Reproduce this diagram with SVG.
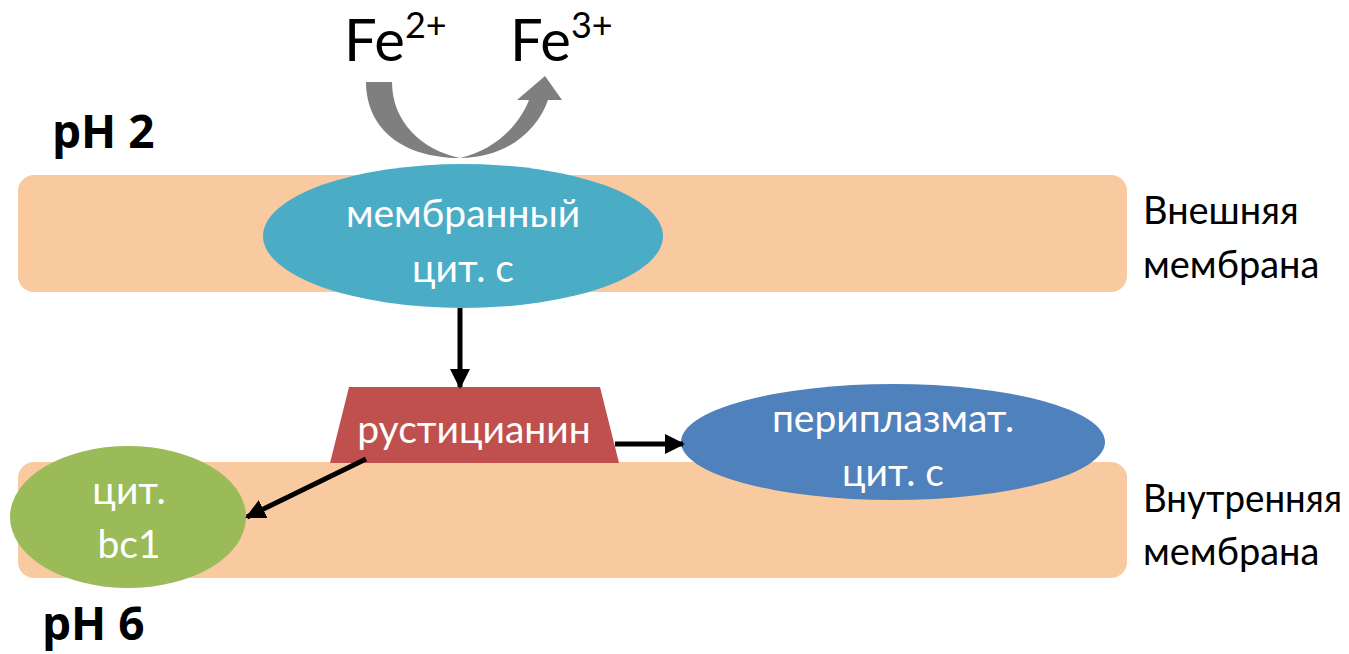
<svg xmlns="http://www.w3.org/2000/svg" width="1349" height="654" viewBox="0 0 1349 654">
<defs>
<marker id="ah" viewBox="0 0 10 10" refX="9" refY="5" markerWidth="4" markerHeight="4" orient="auto" markerUnits="strokeWidth">
<path d="M0,0 L10,5 L0,10 Z" fill="#000"/>
</marker>
<style>
.mem{fill:#F9C9A0}
.t{font-family:Lato,"Noto Sans",sans-serif;font-size:39px;fill:#fff;text-anchor:middle}
.lab{font-family:Lato,"Noto Sans",sans-serif;font-size:38px;fill:#000}
.ph{font-family:"Open Sans","Noto Sans",sans-serif;font-weight:bold;font-size:46px;fill:#000}
.fe{font-family:Lato,"Noto Sans",sans-serif;font-size:58px;fill:#000}
.con{stroke:#000;stroke-width:5;fill:none}
</style>
</defs>
<rect width="1349" height="654" fill="#fff"/>
<g id="outer-membrane"><rect class="mem" x="18" y="175" width="1109" height="117" rx="16"/></g>
<g id="inner-membrane"><rect class="mem" x="18" y="462" width="1109" height="116" rx="16"/></g>
<g id="fe-cycle">
<path d="M366,82 C366,128 402,158 460,158 C505,158 537,132 548,100 L562,100 L545,76 L517,100 L529,100 C518,128 493,150 460,158 C422,150 392,122 392,82 Z" fill="#7F7F7F"/>
<text class="fe" x="344" y="61">Fe<tspan font-size="36" dy="-23">2+</tspan></text>
<text class="fe" x="510" y="61">Fe<tspan font-size="36" dy="-23">3+</tspan></text>
</g>
<g id="ph2"><text class="ph" x="52" y="148">pH 2</text></g>
<g id="ph6"><text class="ph" x="42" y="640">pH 6</text></g>
<g id="label-outer"><text class="lab" x="1143" y="224">Внешняя</text><text class="lab" x="1143" y="278">мембрана</text></g>
<g id="label-inner"><text class="lab" x="1143" y="512" textLength="199" lengthAdjust="spacingAndGlyphs">Внутренняя</text><text class="lab" x="1143" y="565">мембрана</text></g>
<g id="membrane-cyt-c">
<ellipse cx="463" cy="236" rx="200" ry="72" fill="#4BACC6"/>
<text class="t" x="463" y="227">мембранный</text>
<text class="t" x="463" y="282">цит. с</text>
</g>
<g id="rusticyanin">
<polygon points="349,387 600,387 619,463 330,463" fill="#C0504D"/>
<text class="t" x="474" y="443" font-size="38">рустицианин</text>
</g>
<g id="periplasmic-cyt-c">
<ellipse cx="893" cy="442" rx="212" ry="58" fill="#4F81BD"/>
<text class="t" x="893" y="432">периплазмат.</text>
<text class="t" x="893" y="486">цит. с</text>
</g>
<g id="cyt-bc1">
<ellipse cx="128" cy="517" rx="118" ry="71" fill="#9BBB59"/>
<text class="t" x="129" y="504">цит.</text>
<text class="t" x="129" y="558">bc1</text>
</g>
<g id="connectors">
<line class="con" x1="460" y1="308" x2="460" y2="387" marker-end="url(#ah)"/>
<line class="con" x1="615" y1="444" x2="683" y2="444" marker-end="url(#ah)"/>
<line class="con" x1="366" y1="459" x2="247" y2="517" marker-end="url(#ah)"/>
</g>
</svg>
